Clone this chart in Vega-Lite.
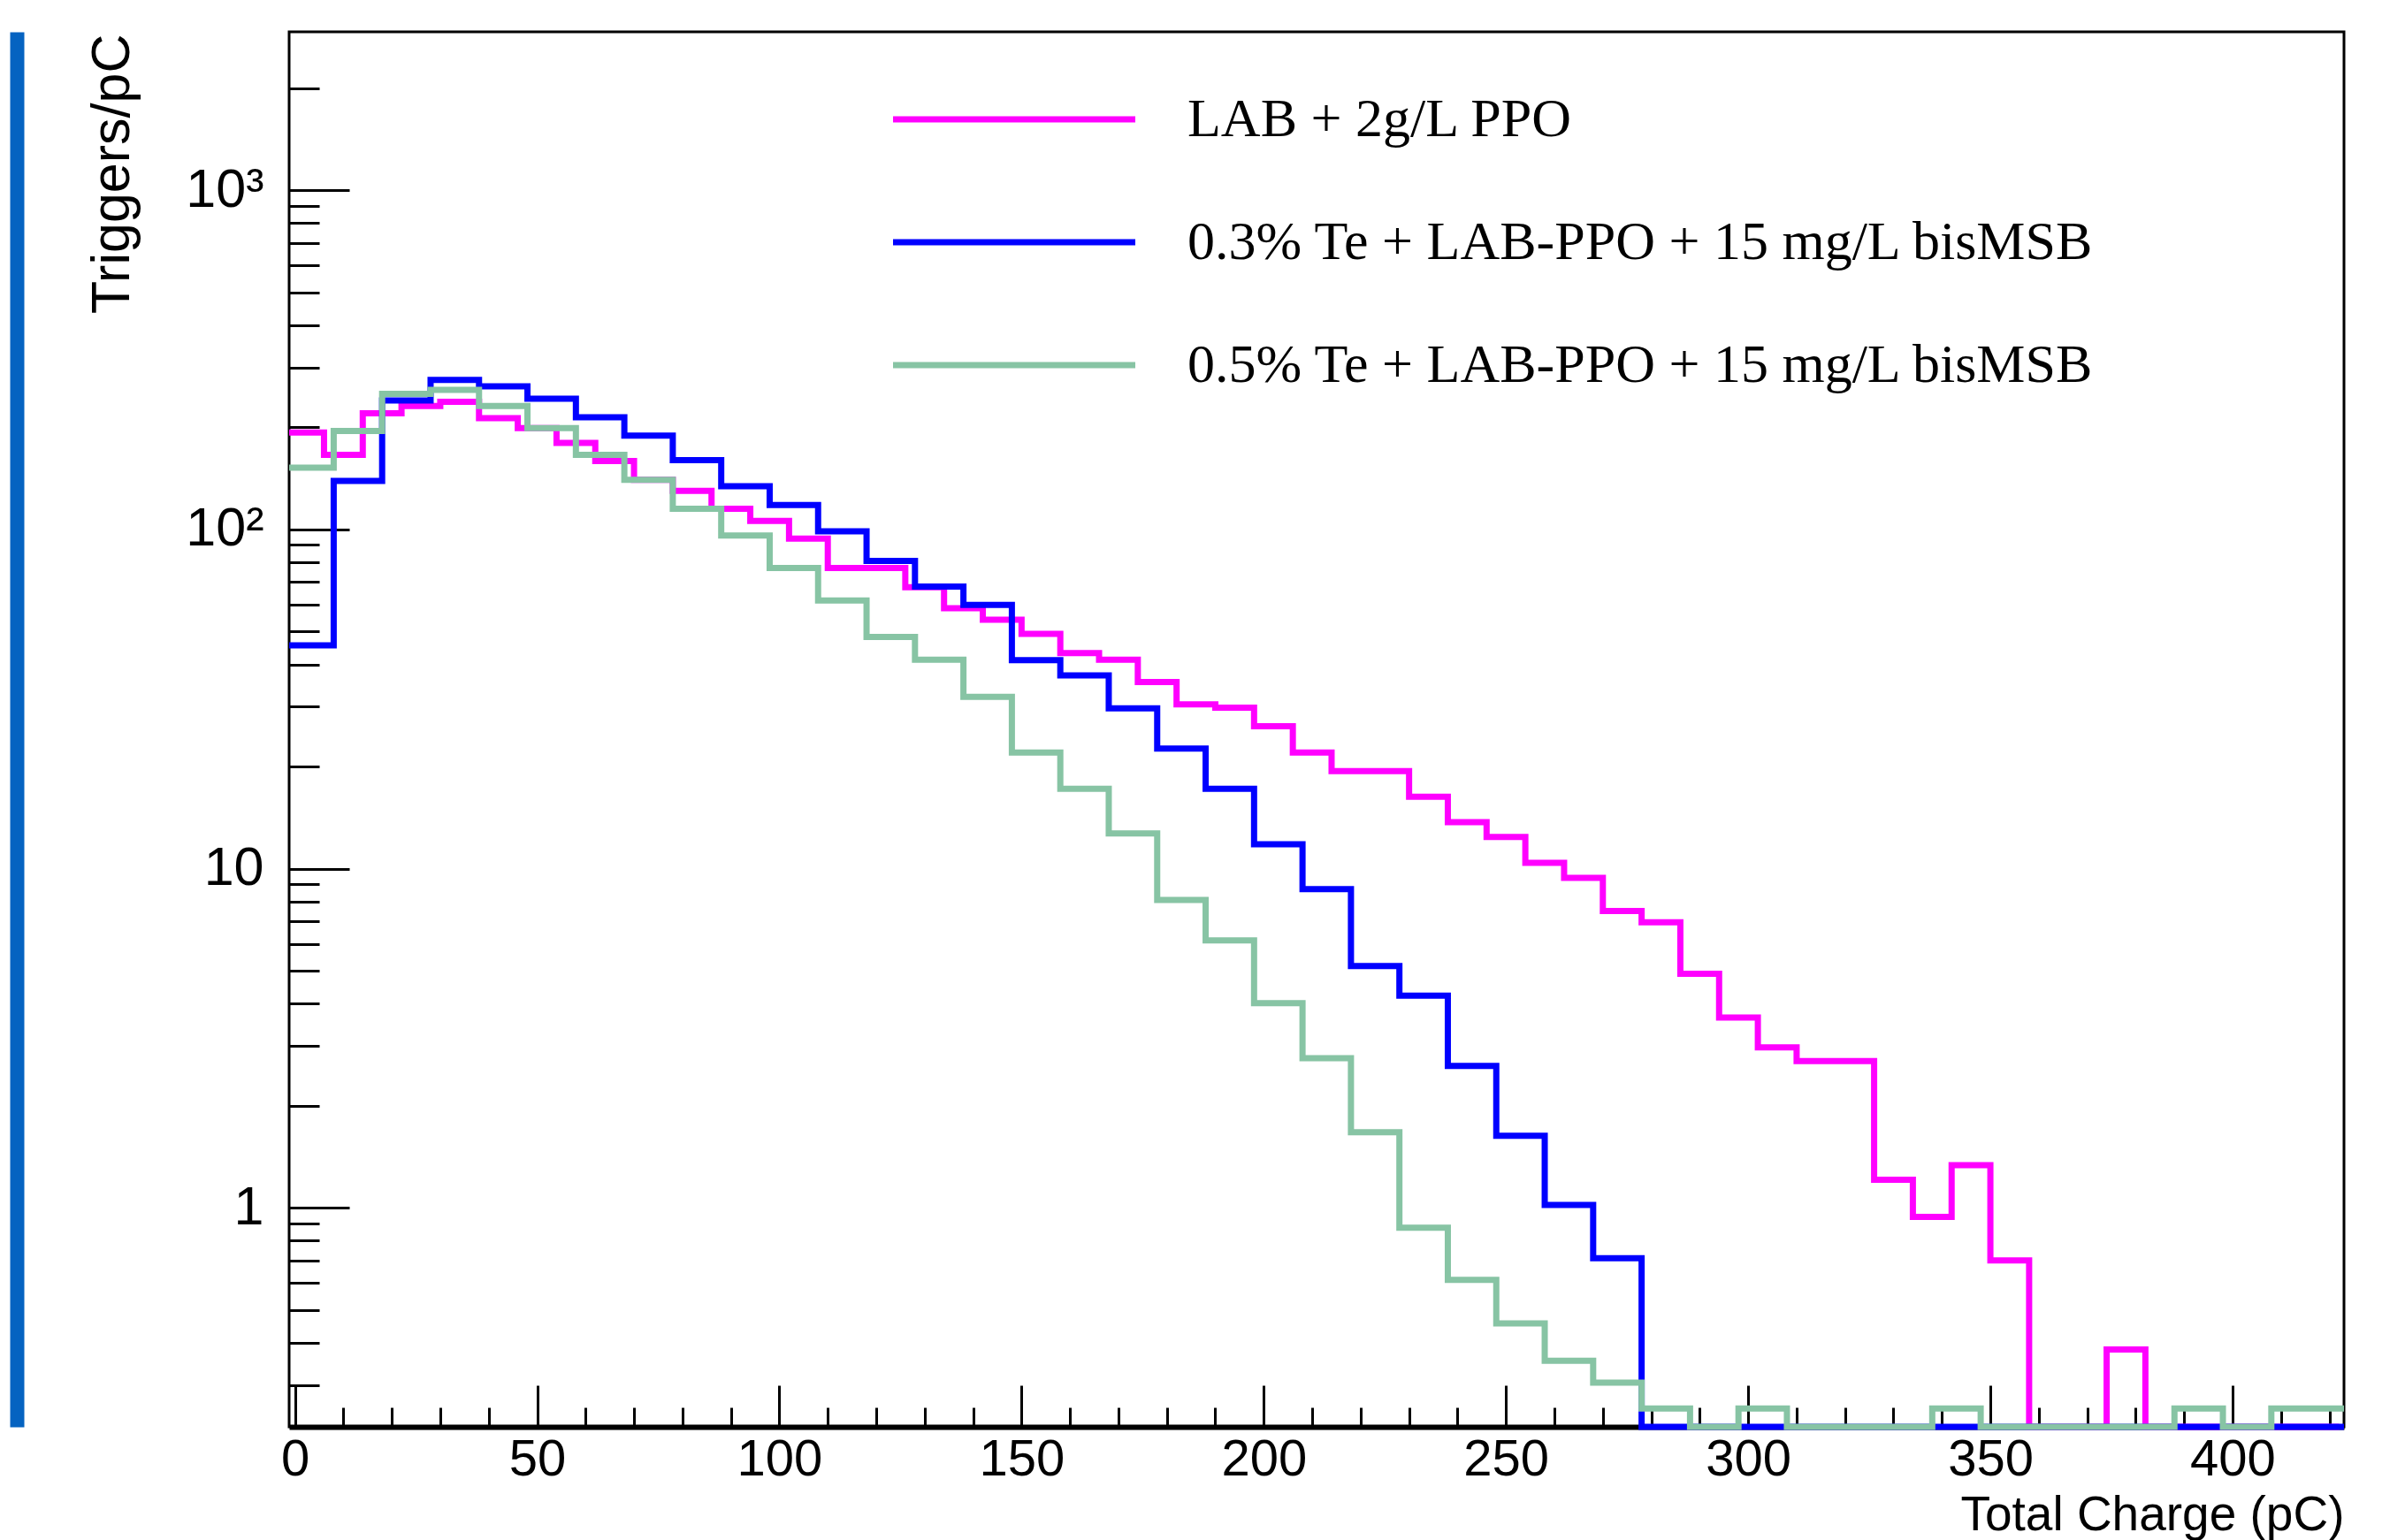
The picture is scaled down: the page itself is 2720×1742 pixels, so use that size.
{
  "$schema": "https://vega.github.io/schema/vega-lite/v6.json",
  "width": 2324,
  "height": 1578,
  "autosize": {"type": "none"},
  "padding": {"left": 327, "top": 36, "right": 69, "bottom": 128},
  "background": "white",
  "config": {
    "view": {"stroke": "black", "strokeWidth": 3},
    "font": "Liberation Sans",
    "axis": {"labelFont": "Liberation Sans", "titleFont": "Liberation Sans", "labelColor": "black", "titleColor": "black", "tickColor": "black", "domainColor": "black", "grid": false, "titleFontWeight": "normal"}
  },
  "data": {"values": [
    {"series": "LAB + 2g/L PPO", "charge": -2, "rate": 193},
    {"series": "LAB + 2g/L PPO", "charge": 6, "rate": 166},
    {"series": "LAB + 2g/L PPO", "charge": 14, "rate": 220},
    {"series": "LAB + 2g/L PPO", "charge": 22, "rate": 231},
    {"series": "LAB + 2g/L PPO", "charge": 30, "rate": 238},
    {"series": "LAB + 2g/L PPO", "charge": 38, "rate": 213},
    {"series": "LAB + 2g/L PPO", "charge": 46, "rate": 199},
    {"series": "LAB + 2g/L PPO", "charge": 54, "rate": 180},
    {"series": "LAB + 2g/L PPO", "charge": 62, "rate": 159},
    {"series": "LAB + 2g/L PPO", "charge": 70, "rate": 140},
    {"series": "LAB + 2g/L PPO", "charge": 78, "rate": 130},
    {"series": "LAB + 2g/L PPO", "charge": 86, "rate": 115},
    {"series": "LAB + 2g/L PPO", "charge": 94, "rate": 106},
    {"series": "LAB + 2g/L PPO", "charge": 102, "rate": 94},
    {"series": "LAB + 2g/L PPO", "charge": 110, "rate": 77},
    {"series": "LAB + 2g/L PPO", "charge": 118, "rate": 77},
    {"series": "LAB + 2g/L PPO", "charge": 126, "rate": 67.5},
    {"series": "LAB + 2g/L PPO", "charge": 134, "rate": 58.6},
    {"series": "LAB + 2g/L PPO", "charge": 142, "rate": 54.2},
    {"series": "LAB + 2g/L PPO", "charge": 150, "rate": 49.2},
    {"series": "LAB + 2g/L PPO", "charge": 158, "rate": 43.2},
    {"series": "LAB + 2g/L PPO", "charge": 166, "rate": 41.3},
    {"series": "LAB + 2g/L PPO", "charge": 174, "rate": 35.5},
    {"series": "LAB + 2g/L PPO", "charge": 182, "rate": 30.5},
    {"series": "LAB + 2g/L PPO", "charge": 190, "rate": 29.8},
    {"series": "LAB + 2g/L PPO", "charge": 198, "rate": 26.3},
    {"series": "LAB + 2g/L PPO", "charge": 206, "rate": 22.0},
    {"series": "LAB + 2g/L PPO", "charge": 214, "rate": 19.4},
    {"series": "LAB + 2g/L PPO", "charge": 222, "rate": 19.4},
    {"series": "LAB + 2g/L PPO", "charge": 230, "rate": 16.3},
    {"series": "LAB + 2g/L PPO", "charge": 238, "rate": 13.7},
    {"series": "LAB + 2g/L PPO", "charge": 246, "rate": 12.4},
    {"series": "LAB + 2g/L PPO", "charge": 254, "rate": 10.4},
    {"series": "LAB + 2g/L PPO", "charge": 262, "rate": 9.4},
    {"series": "LAB + 2g/L PPO", "charge": 270, "rate": 7.5},
    {"series": "LAB + 2g/L PPO", "charge": 278, "rate": 6.95},
    {"series": "LAB + 2g/L PPO", "charge": 286, "rate": 4.9},
    {"series": "LAB + 2g/L PPO", "charge": 294, "rate": 3.64},
    {"series": "LAB + 2g/L PPO", "charge": 302, "rate": 2.97},
    {"series": "LAB + 2g/L PPO", "charge": 310, "rate": 2.71},
    {"series": "LAB + 2g/L PPO", "charge": 318, "rate": 2.71},
    {"series": "LAB + 2g/L PPO", "charge": 326, "rate": 1.21},
    {"series": "LAB + 2g/L PPO", "charge": 334, "rate": 0.94},
    {"series": "LAB + 2g/L PPO", "charge": 342, "rate": 1.335},
    {"series": "LAB + 2g/L PPO", "charge": 350, "rate": 0.70},
    {"series": "LAB + 2g/L PPO", "charge": 358, "rate": 0},
    {"series": "LAB + 2g/L PPO", "charge": 366, "rate": 0},
    {"series": "LAB + 2g/L PPO", "charge": 374, "rate": 0.382},
    {"series": "LAB + 2g/L PPO", "charge": 382, "rate": 0},
    {"series": "LAB + 2g/L PPO", "charge": 390, "rate": 0},
    {"series": "LAB + 2g/L PPO", "charge": 398, "rate": 0},
    {"series": "LAB + 2g/L PPO", "charge": 406, "rate": 0},
    {"series": "LAB + 2g/L PPO", "charge": 414, "rate": 0},
    {"series": "LAB + 2g/L PPO", "charge": 422, "rate": 0},

    {"series": "0.3% Te + LAB-PPO + 15 mg/L bisMSB", "charge": -2, "rate": 45.5},
    {"series": "0.3% Te + LAB-PPO + 15 mg/L bisMSB", "charge": 8, "rate": 139},
    {"series": "0.3% Te + LAB-PPO + 15 mg/L bisMSB", "charge": 18, "rate": 240},
    {"series": "0.3% Te + LAB-PPO + 15 mg/L bisMSB", "charge": 28, "rate": 276},
    {"series": "0.3% Te + LAB-PPO + 15 mg/L bisMSB", "charge": 38, "rate": 264},
    {"series": "0.3% Te + LAB-PPO + 15 mg/L bisMSB", "charge": 48, "rate": 243},
    {"series": "0.3% Te + LAB-PPO + 15 mg/L bisMSB", "charge": 58, "rate": 214},
    {"series": "0.3% Te + LAB-PPO + 15 mg/L bisMSB", "charge": 68, "rate": 189},
    {"series": "0.3% Te + LAB-PPO + 15 mg/L bisMSB", "charge": 78, "rate": 160},
    {"series": "0.3% Te + LAB-PPO + 15 mg/L bisMSB", "charge": 88, "rate": 134},
    {"series": "0.3% Te + LAB-PPO + 15 mg/L bisMSB", "charge": 98, "rate": 118},
    {"series": "0.3% Te + LAB-PPO + 15 mg/L bisMSB", "charge": 108, "rate": 98.7},
    {"series": "0.3% Te + LAB-PPO + 15 mg/L bisMSB", "charge": 118, "rate": 80.7},
    {"series": "0.3% Te + LAB-PPO + 15 mg/L bisMSB", "charge": 128, "rate": 67.9},
    {"series": "0.3% Te + LAB-PPO + 15 mg/L bisMSB", "charge": 138, "rate": 59.9},
    {"series": "0.3% Te + LAB-PPO + 15 mg/L bisMSB", "charge": 148, "rate": 41.2},
    {"series": "0.3% Te + LAB-PPO + 15 mg/L bisMSB", "charge": 158, "rate": 37.1},
    {"series": "0.3% Te + LAB-PPO + 15 mg/L bisMSB", "charge": 168, "rate": 29.7},
    {"series": "0.3% Te + LAB-PPO + 15 mg/L bisMSB", "charge": 178, "rate": 22.6},
    {"series": "0.3% Te + LAB-PPO + 15 mg/L bisMSB", "charge": 188, "rate": 17.2},
    {"series": "0.3% Te + LAB-PPO + 15 mg/L bisMSB", "charge": 198, "rate": 11.8},
    {"series": "0.3% Te + LAB-PPO + 15 mg/L bisMSB", "charge": 208, "rate": 8.7},
    {"series": "0.3% Te + LAB-PPO + 15 mg/L bisMSB", "charge": 218, "rate": 5.16},
    {"series": "0.3% Te + LAB-PPO + 15 mg/L bisMSB", "charge": 228, "rate": 4.22},
    {"series": "0.3% Te + LAB-PPO + 15 mg/L bisMSB", "charge": 238, "rate": 2.62},
    {"series": "0.3% Te + LAB-PPO + 15 mg/L bisMSB", "charge": 248, "rate": 1.63},
    {"series": "0.3% Te + LAB-PPO + 15 mg/L bisMSB", "charge": 258, "rate": 1.02},
    {"series": "0.3% Te + LAB-PPO + 15 mg/L bisMSB", "charge": 268, "rate": 0.71},
    {"series": "0.3% Te + LAB-PPO + 15 mg/L bisMSB", "charge": 278, "rate": 0},
    {"series": "0.3% Te + LAB-PPO + 15 mg/L bisMSB", "charge": 288, "rate": 0},
    {"series": "0.3% Te + LAB-PPO + 15 mg/L bisMSB", "charge": 298, "rate": 0},
    {"series": "0.3% Te + LAB-PPO + 15 mg/L bisMSB", "charge": 308, "rate": 0},
    {"series": "0.3% Te + LAB-PPO + 15 mg/L bisMSB", "charge": 318, "rate": 0},
    {"series": "0.3% Te + LAB-PPO + 15 mg/L bisMSB", "charge": 328, "rate": 0},
    {"series": "0.3% Te + LAB-PPO + 15 mg/L bisMSB", "charge": 338, "rate": 0},
    {"series": "0.3% Te + LAB-PPO + 15 mg/L bisMSB", "charge": 348, "rate": 0},
    {"series": "0.3% Te + LAB-PPO + 15 mg/L bisMSB", "charge": 358, "rate": 0},
    {"series": "0.3% Te + LAB-PPO + 15 mg/L bisMSB", "charge": 368, "rate": 0},
    {"series": "0.3% Te + LAB-PPO + 15 mg/L bisMSB", "charge": 378, "rate": 0},
    {"series": "0.3% Te + LAB-PPO + 15 mg/L bisMSB", "charge": 388, "rate": 0},
    {"series": "0.3% Te + LAB-PPO + 15 mg/L bisMSB", "charge": 398, "rate": 0},
    {"series": "0.3% Te + LAB-PPO + 15 mg/L bisMSB", "charge": 408, "rate": 0},
    {"series": "0.3% Te + LAB-PPO + 15 mg/L bisMSB", "charge": 418, "rate": 0},
    {"series": "0.3% Te + LAB-PPO + 15 mg/L bisMSB", "charge": 428, "rate": 0},

    {"series": "0.5% Te + LAB-PPO + 15 mg/L bisMSB", "charge": -2, "rate": 152},
    {"series": "0.5% Te + LAB-PPO + 15 mg/L bisMSB", "charge": 8, "rate": 195},
    {"series": "0.5% Te + LAB-PPO + 15 mg/L bisMSB", "charge": 18, "rate": 251},
    {"series": "0.5% Te + LAB-PPO + 15 mg/L bisMSB", "charge": 28, "rate": 258},
    {"series": "0.5% Te + LAB-PPO + 15 mg/L bisMSB", "charge": 38, "rate": 231},
    {"series": "0.5% Te + LAB-PPO + 15 mg/L bisMSB", "charge": 48, "rate": 199},
    {"series": "0.5% Te + LAB-PPO + 15 mg/L bisMSB", "charge": 58, "rate": 166},
    {"series": "0.5% Te + LAB-PPO + 15 mg/L bisMSB", "charge": 68, "rate": 140},
    {"series": "0.5% Te + LAB-PPO + 15 mg/L bisMSB", "charge": 78, "rate": 115},
    {"series": "0.5% Te + LAB-PPO + 15 mg/L bisMSB", "charge": 88, "rate": 96},
    {"series": "0.5% Te + LAB-PPO + 15 mg/L bisMSB", "charge": 98, "rate": 77},
    {"series": "0.5% Te + LAB-PPO + 15 mg/L bisMSB", "charge": 108, "rate": 61.7},
    {"series": "0.5% Te + LAB-PPO + 15 mg/L bisMSB", "charge": 118, "rate": 48.2},
    {"series": "0.5% Te + LAB-PPO + 15 mg/L bisMSB", "charge": 128, "rate": 41.3},
    {"series": "0.5% Te + LAB-PPO + 15 mg/L bisMSB", "charge": 138, "rate": 32.1},
    {"series": "0.5% Te + LAB-PPO + 15 mg/L bisMSB", "charge": 148, "rate": 22.0},
    {"series": "0.5% Te + LAB-PPO + 15 mg/L bisMSB", "charge": 158, "rate": 17.2},
    {"series": "0.5% Te + LAB-PPO + 15 mg/L bisMSB", "charge": 168, "rate": 12.7},
    {"series": "0.5% Te + LAB-PPO + 15 mg/L bisMSB", "charge": 178, "rate": 8.08},
    {"series": "0.5% Te + LAB-PPO + 15 mg/L bisMSB", "charge": 188, "rate": 6.14},
    {"series": "0.5% Te + LAB-PPO + 15 mg/L bisMSB", "charge": 198, "rate": 4.01},
    {"series": "0.5% Te + LAB-PPO + 15 mg/L bisMSB", "charge": 208, "rate": 2.76},
    {"series": "0.5% Te + LAB-PPO + 15 mg/L bisMSB", "charge": 218, "rate": 1.67},
    {"series": "0.5% Te + LAB-PPO + 15 mg/L bisMSB", "charge": 228, "rate": 0.874},
    {"series": "0.5% Te + LAB-PPO + 15 mg/L bisMSB", "charge": 238, "rate": 0.613},
    {"series": "0.5% Te + LAB-PPO + 15 mg/L bisMSB", "charge": 248, "rate": 0.456},
    {"series": "0.5% Te + LAB-PPO + 15 mg/L bisMSB", "charge": 258, "rate": 0.354},
    {"series": "0.5% Te + LAB-PPO + 15 mg/L bisMSB", "charge": 268, "rate": 0.305},
    {"series": "0.5% Te + LAB-PPO + 15 mg/L bisMSB", "charge": 278, "rate": 0.256},
    {"series": "0.5% Te + LAB-PPO + 15 mg/L bisMSB", "charge": 288, "rate": 0},
    {"series": "0.5% Te + LAB-PPO + 15 mg/L bisMSB", "charge": 298, "rate": 0.256},
    {"series": "0.5% Te + LAB-PPO + 15 mg/L bisMSB", "charge": 308, "rate": 0},
    {"series": "0.5% Te + LAB-PPO + 15 mg/L bisMSB", "charge": 318, "rate": 0},
    {"series": "0.5% Te + LAB-PPO + 15 mg/L bisMSB", "charge": 328, "rate": 0},
    {"series": "0.5% Te + LAB-PPO + 15 mg/L bisMSB", "charge": 338, "rate": 0.256},
    {"series": "0.5% Te + LAB-PPO + 15 mg/L bisMSB", "charge": 348, "rate": 0},
    {"series": "0.5% Te + LAB-PPO + 15 mg/L bisMSB", "charge": 358, "rate": 0},
    {"series": "0.5% Te + LAB-PPO + 15 mg/L bisMSB", "charge": 368, "rate": 0},
    {"series": "0.5% Te + LAB-PPO + 15 mg/L bisMSB", "charge": 378, "rate": 0},
    {"series": "0.5% Te + LAB-PPO + 15 mg/L bisMSB", "charge": 388, "rate": 0.256},
    {"series": "0.5% Te + LAB-PPO + 15 mg/L bisMSB", "charge": 398, "rate": 0},
    {"series": "0.5% Te + LAB-PPO + 15 mg/L bisMSB", "charge": 408, "rate": 0.256},
    {"series": "0.5% Te + LAB-PPO + 15 mg/L bisMSB", "charge": 418, "rate": 0.256},
    {"series": "0.5% Te + LAB-PPO + 15 mg/L bisMSB", "charge": 428, "rate": 0.256}
  ]},
  "layer": [
    {
      "transform": [{"filter": "datum.series == 'LAB + 2g/L PPO'"}],
      "mark": {"type": "line", "interpolate": "step-after", "strokeWidth": 7, "strokeJoin": "miter"},
      "encoding": {
        "x": {"field": "charge", "type": "quantitative",
          "scale": {"domain": [-1.2, 423], "nice": false, "zero": false, "clamp": true},
          "axis": {"orient": "bottom", "values": [0, 50, 100, 150, 200, 250, 300, 350, 400], "format": "d",
            "tickSize": -47, "tickWidth": 3, "labelPadding": 55, "labelFontSize": 58, "labelFlush": false, "labelOverlap": false,
            "domain": true, "domainWidth": 6,
            "title": "Total Charge (pC)", "titleFontSize": 55, "titleX": 2324, "titleY": 116, "titleAlign": "right", "titleBaseline": "alphabetic"}},
        "y": {"field": "rate", "type": "quantitative",
          "scale": {"type": "log", "domain": [0.2261, 2931], "nice": false, "clamp": true},
          "axis": {"orient": "left", "values": [1, 10, 100, 1000],
            "labelExpr": "datum.value == 1000 ? '10³' : datum.value == 100 ? '10²' : datum.value == 10 ? '10' : '1'",
            "tickSize": -68, "tickWidth": 3, "labelPadding": 97, "labelFontSize": 61, "labelFlush": false, "labelOverlap": false,
            "domain": false,
            "title": "Triggers/pC", "titleFontSize": 61, "titleAngle": 270, "titleX": -182, "titleY": 2, "titleAlign": "right", "titleBaseline": "alphabetic"}},
        "color": {"field": "series", "type": "nominal",
          "scale": {"domain": ["LAB + 2g/L PPO", "0.3% Te + LAB-PPO + 15 mg/L bisMSB", "0.5% Te + LAB-PPO + 15 mg/L bisMSB"], "range": ["#FF00FF", "#0000FF", "#87C4A4"]},
          "legend": {"orient": "none", "legendX": 679.5, "legendY": 68, "title": null, "symbolType": "stroke", "symbolSize": 75076, "symbolStrokeWidth": 7,
            "labelFont": "Liberation Serif", "labelFontSize": 62, "labelColor": "black", "labelLimit": 2000, "labelOffset": 55.5,
            "clipHeight": 62, "rowPadding": 77, "padding": 0, "symbolOffset": 0}}
      }
    },
    {
      "transform": [{"filter": "datum.series == '0.3% Te + LAB-PPO + 15 mg/L bisMSB'"}],
      "mark": {"type": "line", "interpolate": "step-after", "strokeWidth": 7, "strokeJoin": "miter"},
      "encoding": {
        "x": {"field": "charge", "type": "quantitative",
          "scale": {"domain": [-1.2, 423], "nice": false, "zero": false, "clamp": true},
          "axis": {"orient": "bottom", "values": [10, 20, 30, 40, 60, 70, 80, 90, 110, 120, 130, 140, 160, 170, 180, 190, 210, 220, 230, 240, 260, 270, 280, 290, 310, 320, 330, 340, 360, 370, 380, 390, 410, 420],
            "tickSize": -22, "tickWidth": 3, "labels": false, "domain": false, "title": null}},
        "y": {"field": "rate", "type": "quantitative",
          "scale": {"type": "log", "domain": [0.2261, 2931], "nice": false, "clamp": true},
          "axis": {"orient": "left", "values": [0.3, 0.4, 0.5, 0.6, 0.7, 0.8, 0.9, 2, 3, 4, 5, 6, 7, 8, 9, 20, 30, 40, 50, 60, 70, 80, 90, 200, 300, 400, 500, 600, 700, 800, 900, 2000],
            "tickSize": -34, "tickWidth": 3, "labels": false, "domain": false, "title": null}},
        "color": {"field": "series", "type": "nominal"}
      }
    },
    {
      "transform": [{"filter": "datum.series == '0.5% Te + LAB-PPO + 15 mg/L bisMSB'"}],
      "mark": {"type": "line", "interpolate": "step-after", "strokeWidth": 7, "strokeJoin": "miter"},
      "encoding": {
        "x": {"field": "charge", "type": "quantitative",
          "scale": {"domain": [-1.2, 423], "nice": false, "zero": false, "clamp": true},
          "axis": null},
        "y": {"field": "rate", "type": "quantitative",
          "scale": {"type": "log", "domain": [0.2261, 2931], "nice": false, "clamp": true},
          "axis": {"orient": "left", "offset": 308, "domain": true, "domainColor": "#0563C1", "domainWidth": 16, "ticks": false, "labels": false, "title": null}},
        "color": {"field": "series", "type": "nominal"}
      }
    }
  ],
  "resolve": {"axis": {"x": "independent", "y": "independent"}}
}
